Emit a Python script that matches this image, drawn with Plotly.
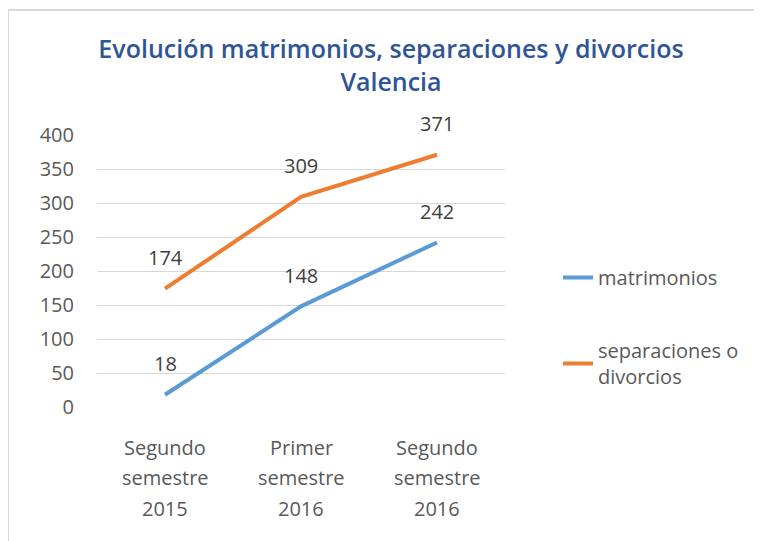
import plotly.graph_objects as go

categories = ["Segundo<br>semestre<br>2015", "Primer<br>semestre<br>2016", "Segundo<br>semestre<br>2016"]
matrimonios = [18, 148, 242]
separaciones = [174, 309, 371]
series_names = ["matrimonios", "separaciones o<br>divorcios"]
y_ticks = [0, 50, 100, 150, 200, 250, 300, 350, 400]

BLUE = "#5B9BD5"
ORANGE = "#ED7D31"
GRAY = "#595959"
FONT = "Open Sans"

OFF = 8  # page body margin
W, H = 762, 541
L, T = 97 - OFF, 135 - OFF
PR, PB = 505 - OFF, 407 - OFF
R, B = W - PR, H - PB
pw, ph = PR - L, PB - T

def px2paper_x(px):
    return (px - OFF - L) / pw

def px2paper_y(py):
    return (PB - (py - OFF)) / ph

fig = go.Figure()
fig.add_trace(go.Scatter(x=categories, y=matrimonios, mode="lines", name=series_names[0],
                         line=dict(color=BLUE, width=4), legendgroup="a"))
fig.add_trace(go.Scatter(x=categories, y=separaciones, mode="lines", name=series_names[1],
                         line=dict(color=ORANGE, width=4), legendgroup="b"))

for ser in (matrimonios, separaciones):
    for c, v in zip(categories, ser):
        fig.add_annotation(x=c, y=v, text=str(v), showarrow=False, yshift=31,
                           font=dict(family=FONT, size=20, color="#404040"))

# category labels, one line per annotation for Excel-like line spacing
for c in categories:
    for i, part in enumerate(c.split("<br>")):
        fig.add_annotation(x=c, y=0, xref="x", yref="paper", yanchor="middle",
                           text=part, showarrow=False, yshift=-(40 + 30.5 * i),
                           font=dict(family=FONT, size=20, color=GRAY))

fig.add_shape(type="rect", xref="paper", yref="paper",
              x0=px2paper_x(8), x1=px2paper_x(780), y0=px2paper_y(550), y1=px2paper_y(10),
              line=dict(color="#D9D9D9", width=2), fillcolor="rgba(0,0,0,0)", layer="below")

fig.update_layout(
    width=W, height=H,
    margin=dict(l=L, r=R, t=T, b=B),
    paper_bgcolor="white", plot_bgcolor="white",
    title=dict(text="Evolución matrimonios, separaciones y divorcios<br>Valencia",
               x=(391 - OFF) / W, xanchor="center", xref="container",
               y=1 - 50 / H, yanchor="top", yref="container",
               font=dict(family=FONT, size=25, color="#2F5597", weight=600)),
    showlegend=True,
    legend=dict(x=px2paper_x(558), y=px2paper_y(258), xanchor="left", yanchor="top",
                font=dict(family=FONT, size=20, color=GRAY), tracegroupgap=44,
                traceorder="grouped", bgcolor="rgba(0,0,0,0)"),
    xaxis=dict(showgrid=False, zeroline=False, showline=False, ticks="",
               showticklabels=False, range=[-0.5, 2.5]),
    yaxis=dict(range=[0, 400], tickvals=y_ticks, showgrid=True, gridcolor="#D9D9D9", gridwidth=1,
               zeroline=False, showline=False, ticks="",
               tickfont=dict(family=FONT, size=20, color=GRAY), ticklabelstandoff=22),
)

fig.write_html("out.html")
